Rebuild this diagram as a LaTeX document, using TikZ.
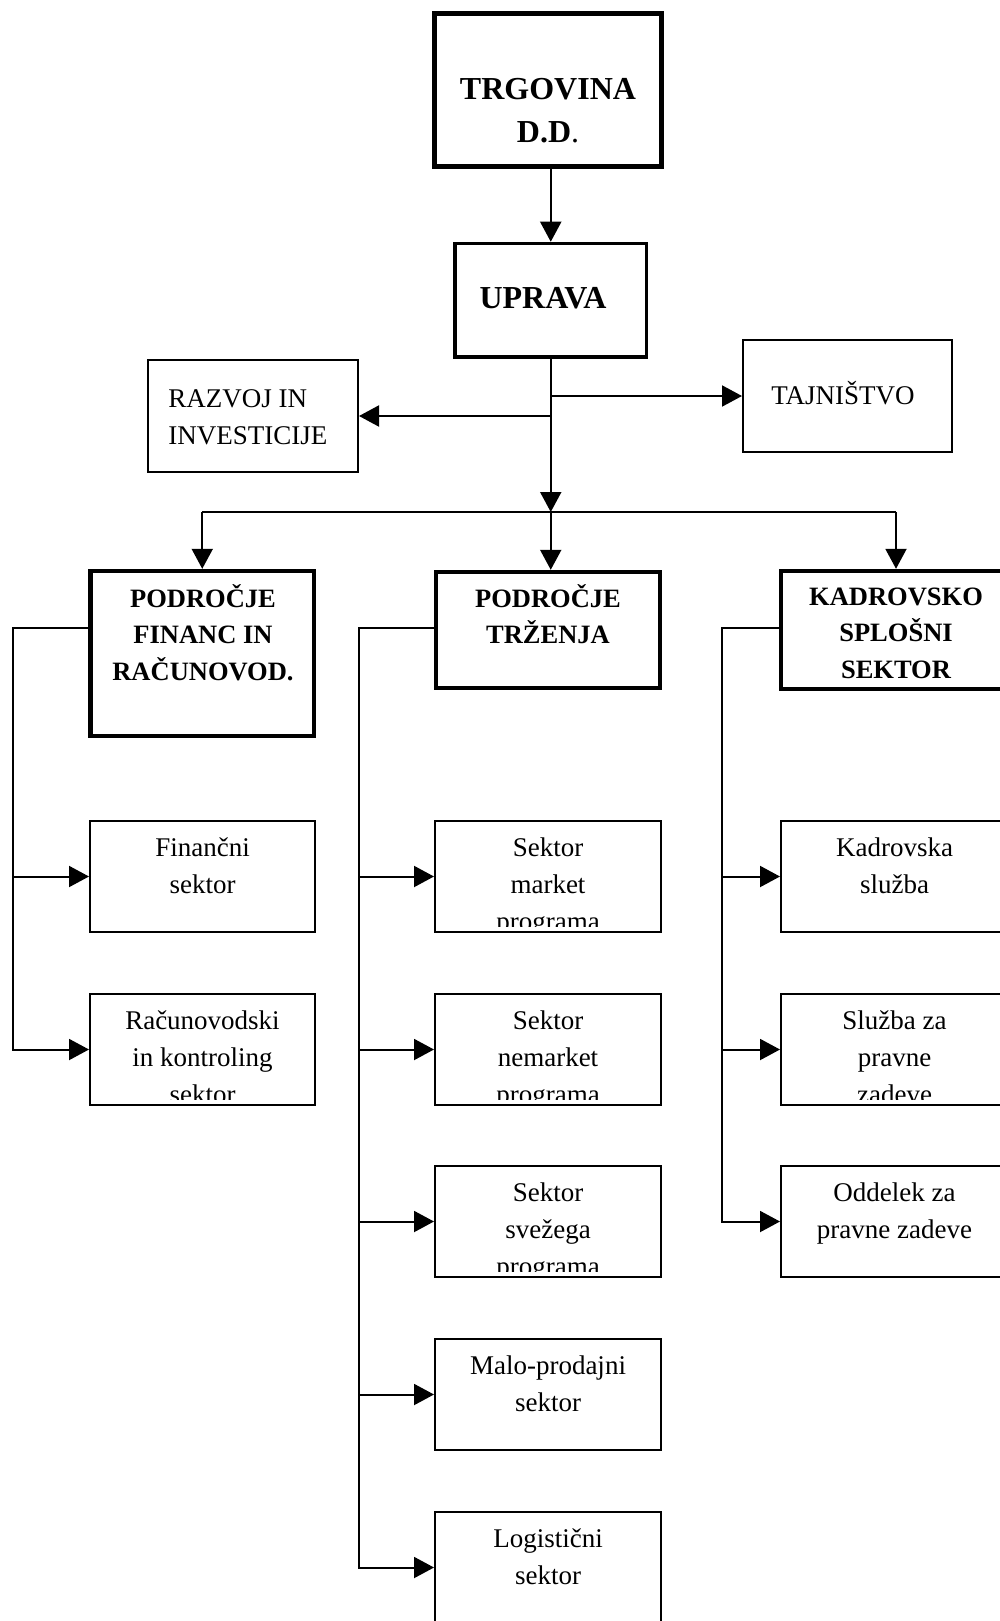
\documentclass[tikz,border=0pt]{standalone}
\usepackage{fontspec}
\setmainfont{Liberation Serif}
\usetikzlibrary{arrows.meta,calc}
\newcommand\childbox[5]{%
  \node[thinbox, minimum width=#4*0.5pt, minimum height=55.5pt] (#1) at (#2,#3+55.5) {};
  \begin{scope}
    \clip ($(#1.south west)+(0,-7)$) rectangle (#1.north east);
    \node[txt, anchor=base] (#1-t) at ($(#1.north)+(0,36.5)$) {\parbox[t]{110pt}{\centering #5}};
  \end{scope}}
\begin{document}
\begin{tikzpicture}[x=0.5pt,y=-0.5pt,
  thinbox/.style={draw, line width=1pt, inner sep=0pt},
  hdrbox/.style={draw, line width=2.2pt, inner sep=0pt},
  conn/.style={line width=1pt},
  arr/.style={line width=1pt, -{Triangle[length=10pt,width=10.5pt]}},
  txt/.style={inner sep=0pt, font=\fontsize{13.5pt}{18.5pt}\selectfont},
  hdr/.style={inner sep=0pt, font=\fontsize{13.25pt}{18.25pt}\selectfont\bfseries},
  big/.style={inner sep=0pt, font=\fontsize{16pt}{21.5pt}\selectfont\bfseries}]
\useasboundingbox (0,0) rectangle (1000,1621);
\clip (0,0) rectangle (1000,1621);

% top boxes
\node[hdrbox, line width=2.5pt, minimum width=113.5pt, minimum height=76.5pt] (trg) at (548,90) {};
\node[big, anchor=base] (trg-t) at (548,100) {\parbox[t]{150pt}{\centering TRGOVINA\\D.D\textmd{.}}};
\node[hdrbox, line width=1.75pt, minimum width=95.75pt, minimum height=56.75pt] (upr) at (550.75,300.25) {};
\node[big, anchor=base] (upr-t) at (543,308) {UPRAVA};
\node[thinbox, minimum width=105pt, minimum height=56pt] (raz) at (253,416) {};
\node[txt, anchor=base west] (raz-t) at (168,407) {\parbox[t]{150pt}{\raggedright RAZVOJ IN\\INVESTICIJE}};
\node[thinbox, minimum width=104.5pt, minimum height=56pt] (taj) at (847.5,396) {};
\node[txt, anchor=base west] (taj-t) at (771,404) {TAJNIŠTVO};

% header boxes
\node[hdrbox, minimum width=111.75pt, minimum height=82.5pt] (hA) at (202.25,653.5) {};
\node[hdr, anchor=base] (hA-t) at (203,607) {\parbox[t]{150pt}{\centering PODROČJE\\FINANC IN\\RAČUNOVOD.}};
\node[hdrbox, minimum width=112pt, minimum height=58pt] (hB) at (548,630) {};
\node[hdr, anchor=base] (hB-t) at (548,607) {\parbox[t]{150pt}{\centering PODROČJE\\TRŽENJA}};
\node[hdrbox, minimum width=115pt, minimum height=59pt] (hC) at (896,630) {};
\node[hdr, anchor=base] (hC-t) at (896,605) {\parbox[t]{150pt}{\centering KADROVSKO\\SPLOŠNI\\SEKTOR}};

% child boxes
\childbox{a1}{202.5}{821}{225}{Finančni\\sektor}
\childbox{a2}{202.5}{994}{225}{Računovodski\\in kontroling\\sektor}
\childbox{b1}{548}{821}{226}{Sektor\\market\\programa}
\childbox{b2}{548}{994}{226}{Sektor\\nemarket\\programa}
\childbox{b3}{548}{1166}{226}{Sektor\\svežega\\programa}
\childbox{b4}{548}{1339}{226}{Malo-prodajni\\sektor}
\childbox{b5}{548}{1512}{226}{Logistični\\sektor}
\childbox{c1}{894.5}{821}{227}{Kadrovska\\služba}
\childbox{c2}{894.5}{994}{227}{Služba za\\pravne\\zadeve}
\childbox{c3}{894.5}{1166}{227}{Oddelek za\\pravne zadeve}

% connectors, top
\coordinate (bus) at (550.75,512);
\draw[arr] (trg.south -| upr.north) -- (upr.north);
\draw[arr] (upr.south) -- (bus);
\draw[arr] (upr.south |- taj.west) -- (taj.west);
\draw[arr] (upr.south |- raz.east) -- (raz.east);
\draw[conn] (hA.north |- bus) -- (hC.north |- bus);
\draw[arr] (hA.north |- bus) -- (hA.north);
\draw[arr] (bus) -- (bus |- hB.north);
\draw[arr] (hC.north |- bus) -- (hC.north);

% trunks
\coordinate (tA) at (13,628);
\coordinate (tB) at (358.5,628);
\coordinate (tC) at (722,628);
\draw[arr] (hA.west |- tA) -- (tA) -- (tA |- a2.west) -- (a2.west);
\draw[arr] (tA |- a1.west) -- (a1.west);
\draw[arr] (hB.west |- tB) -- (tB) -- (tB |- b5.west) -- (b5.west);
\foreach \n in {b1,b2,b3,b4} \draw[arr] (tB |- \n.west) -- (\n.west);
\draw[arr] (hC.west |- tC) -- (tC) -- (tC |- c3.west) -- (c3.west);
\foreach \n in {c1,c2} \draw[arr] (tC |- \n.west) -- (\n.west);
\end{tikzpicture}
\end{document}
